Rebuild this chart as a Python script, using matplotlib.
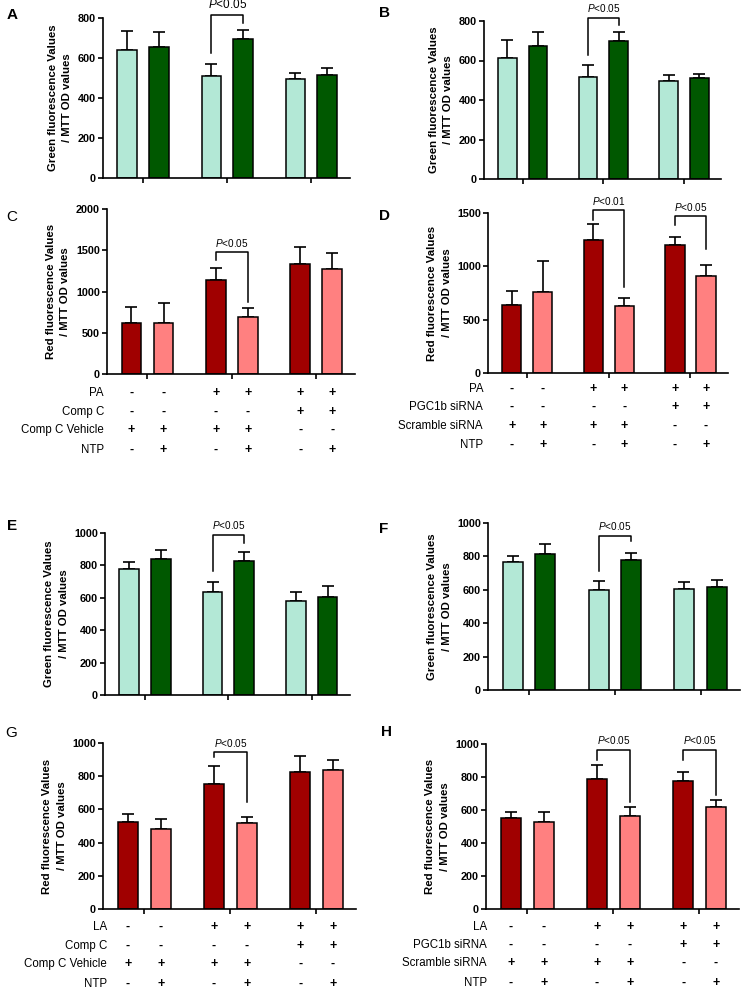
import matplotlib
matplotlib.use("Agg")
import matplotlib.pyplot as plt

plt.rcParams["font.family"] = ["Liberation Sans", "DejaVu Sans"]
plt.rcParams["mathtext.fontset"] = "custom"
plt.rcParams["mathtext.it"] = "Liberation Sans:italic"
plt.rcParams["mathtext.rm"] = "Liberation Sans"

W, H = 742, 993

mint = "#b3e8d6"
dkgreen = "#005800"
dkred = "#a00000"
pink = "#ff8080"

groups = [0, 1, 2]

# means and upper error (SEM) per bar, order: group1 (a, b), group2 (a, b), group3 (a, b)
A_mean = [642, 655, 508, 695, 495, 517]
A_err = [91, 75, 64, 47, 30, 31]
B_mean = [613, 674, 515, 700, 498, 509]
B_err = [89, 70, 61, 44, 29, 25]
C_mean = [615, 623, 1142, 696, 1332, 1271]
C_err = [195, 243, 141, 98, 210, 195]
D_mean = [634, 756, 1244, 625, 1197, 912]
D_err = [132, 291, 156, 78, 78, 100]
E_mean = [779, 837, 635, 829, 579, 602]
E_err = [40, 58, 60, 56, 54, 68]
F_mean = [766, 814, 596, 780, 602, 614]
F_err = [34, 60, 54, 42, 46, 42]
G_mean = [526, 482, 756, 516, 827, 837]
G_err = [45, 60, 103, 38, 96, 62]
H_mean = [552, 527, 788, 562, 778, 620]
H_err = [38, 59, 83, 54, 54, 41]

# brackets: (left bar, right bar, left end, top, right end, label)
A_br = [(2, 3, 625, 817, 775, "<0.05")]
B_br = [(2, 3, 630, 817, 781, "<0.05")]
C_br = [(2, 3, 1377, 1474, 870, "<0.05")]
D_br = [(2, 3, 1434, 1525, 806, "<0.01"), (4, 5, 1384, 1472, 1166, "<0.05")]
E_br = [(2, 3, 767, 990, 938, "<0.05")]
F_br = [(2, 3, 714, 924, 890, "<0.05")]
G_br = [(2, 3, 915, 944, 647, "<0.05")]
H_br = [(2, 3, 905, 966, 646, "<0.05"), (4, 5, 903, 966, 693, "<0.05")]

rows_C = ["PA", "Comp C", "Comp C Vehicle", "NTP"]
rows_D = ["PA", "PGC1b siRNA", "Scramble siRNA", "NTP"]
rows_G = ["LA", "Comp C", "Comp C Vehicle", "NTP"]
rows_H = ["LA", "PGC1b siRNA", "Scramble siRNA", "NTP"]
signs = [
    ["-", "-", "+", "+", "+", "+"],
    ["-", "-", "-", "-", "+", "+"],
    ["+", "+", "+", "+", "-", "-"],
    ["-", "+", "-", "+", "-", "+"],
]

green_label = "Green fluorescence Values\n/ MTT OD values"
red_label = "Red fluorescence Values\n/ MTT OD values"

fig = plt.figure(figsize=(W / 100, H / 100), dpi=100)


def add_ax(l, t, r, b):
    return fig.add_axes([l / W, 1 - b / H, (r - l) / W, (b - t) / H])


def bar_x():
    xs = []
    for g in groups:
        xs += [g - 0.19, g + 0.19]
    return xs


def panel(box, mean, err, colors, ymax, ystep, ylabel, brackets, ptsize=7.2):
    ax = add_ax(*box)
    xs = bar_x()
    ax.bar(xs, mean, width=0.235, color=colors * 3, edgecolor="black",
           linewidth=1.1, zorder=2)
    ax.errorbar(xs, mean, yerr=[[0] * len(err), err], fmt="none",
                ecolor="black", elinewidth=1.2, capsize=4.5, capthick=1.2,
                zorder=1)
    ax.set_xlim(-0.48, 2.46)
    ax.set_ylim(0, ymax)
    ax.set_yticks(range(0, ymax + 1, ystep))
    ax.set_xticks(groups)
    ax.set_xticklabels([])
    for s in ["top", "right"]:
        ax.spines[s].set_visible(False)
    for s in ["left", "bottom"]:
        ax.spines[s].set_linewidth(1.2)
    ax.tick_params(axis="both", length=3.5, width=1.2, labelsize=7.8, pad=1.5)
    for lab in ax.get_yticklabels():
        lab.set_fontweight("bold")
    ax.set_ylabel(ylabel, fontsize=8.2, fontweight="bold", labelpad=4,
                  linespacing=1.55)
    for i, j, y1, top, y2, txt in brackets:
        x1, x2 = xs[i], xs[j]
        ax.plot([x1, x1, x2, x2], [y1, top, top, y2], color="black",
                linewidth=1.1, clip_on=False)
        ax.annotate("$\\it{P}$" + txt, xy=((x1 + x2) / 2, top),
                    xytext=(0, 2.5), textcoords="offset points",
                    ha="center", va="bottom", fontsize=ptsize,
                    annotation_clip=False)
    return ax


def row_table(ax, names, label_px, offsets):
    xs = bar_x()
    left_px = ax.get_position().x0 * W
    for r, name in enumerate(names):
        dy = -offsets[r] * 0.72
        ax.annotate(name, xy=(0, 0), xycoords="axes fraction",
                    xytext=((label_px - left_px) * 0.72, dy),
                    textcoords="offset points", ha="right", va="center",
                    fontsize=8.3, annotation_clip=False)
        for k, x in enumerate(xs):
            ax.annotate(signs[r][k], xy=(x, 0),
                        xycoords=("data", "axes fraction"),
                        xytext=(0, dy), textcoords="offset points",
                        ha="center", va="center", fontsize=9,
                        fontweight="bold", annotation_clip=False)


green = [mint, dkgreen]
red = [dkred, pink]

axA = panel((103, 18, 350, 178), A_mean, A_err, green, 800, 200, green_label,
            A_br, ptsize=8.5)
axB = panel((484, 21, 721, 179), B_mean, B_err, green, 800, 200, green_label, B_br)
axC = panel((107, 209, 355, 374), C_mean, C_err, red, 2000, 500, red_label, C_br)
axD = panel((488, 213, 728, 373), D_mean, D_err, red, 1500, 500, red_label, D_br)
axE = panel((105, 533, 350, 695), E_mean, E_err, green, 1000, 200, green_label, E_br)
axF = panel((488, 523, 740, 690), F_mean, F_err, green, 1000, 200, green_label, F_br)
axG = panel((103, 743, 356, 909), G_mean, G_err, red, 1000, 200, red_label, G_br)
axH = panel((486, 744, 739, 909), H_mean, H_err, red, 1000, 200, red_label, H_br)

row_table(axC, rows_C, 104, [19, 38, 56, 76])
row_table(axD, rows_D, 483, [16, 34, 53, 72])
row_table(axG, rows_G, 107, [18, 37, 55, 75])
row_table(axH, rows_H, 487, [18, 36, 54, 74])

letters = [("A", 12, 15, "bold"), ("B", 384, 13, "bold"), ("C", 12, 217, "normal"),
           ("D", 384, 216, "bold"), ("E", 12, 526, "bold"), ("F", 384, 529, "bold"),
           ("G", 11, 733, "normal"), ("H", 386, 732, "bold")]
for s, x, y, w in letters:
    fig.text(x / W, 1 - y / H, s, fontsize=11, fontweight=w,
             ha="center", va="center")

fig.savefig("out.png", dpi=100)
